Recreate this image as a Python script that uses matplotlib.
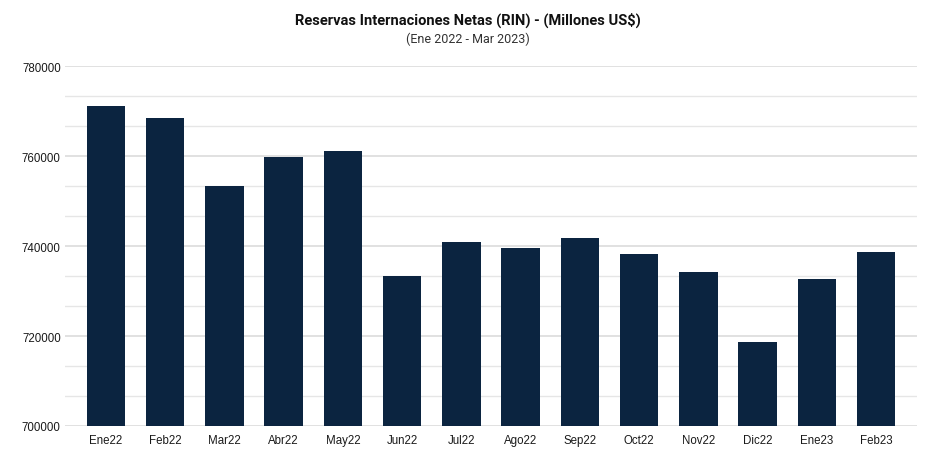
import matplotlib.pyplot as plt
import numpy as np

# Data
months = ['Ene22', 'Feb22', 'Mar22', 'Abr22', 'May22', 'Jun22', 'Jul22',
          'Ago22', 'Sep22', 'Oct22', 'Nov22', 'Dic22', 'Ene23', 'Feb23']
rin = [771200, 768400, 753250, 759700, 761050, 733250, 740800,
       739500, 741850, 738300, 734300, 718600, 732600, 738650]

bar_color = '#0b2440'

fig = plt.figure(figsize=(9.35, 4.56), dpi=100)
ax = fig.add_axes([0.0695, 0.0636, 0.9112, 0.7894])

x = np.arange(len(months))
ax.bar(x, rin, width=0.65, color=bar_color, zorder=3)

ax.set_ylim(700000, 780000)
ax.set_xlim(-0.69, len(months) - 0.31)
ax.set_yticks(np.arange(700000, 780001, 20000))
ax.set_yticks(np.linspace(700000, 780000, 13), minor=True)
ax.yaxis.grid(True, which='major', color='#dcdcdc', linewidth=1.2, zorder=0)
ax.yaxis.grid(True, which='minor', color='#e6e6e6', linewidth=1.0, zorder=0)
ax.set_xticks(x)
ax.set_xticklabels(months)

for s in ax.spines.values():
    s.set_visible(False)
ax.tick_params(axis='both', which='both', length=0, labelsize=8.3,
               colors='#1a1a1a')
ax.tick_params(axis='x', pad=6)
ax.tick_params(axis='y', pad=3)
for lbl in ax.get_xticklabels() + ax.get_yticklabels():
    lbl.set_fontfamily('Liberation Sans')

fig.text(0.5, 0.955, 'Reservas Internaciones Netas (RIN) - (Millones US$)',
         ha='center', va='center', fontsize=10.5, fontweight='bold',
         family='Roboto', color='#111111')
fig.text(0.5, 0.913, '(Ene 2022 - Mar 2023)', ha='center', va='center',
         fontsize=9, family='Roboto', color='#333333')

plt.savefig('out.png', dpi=100)
